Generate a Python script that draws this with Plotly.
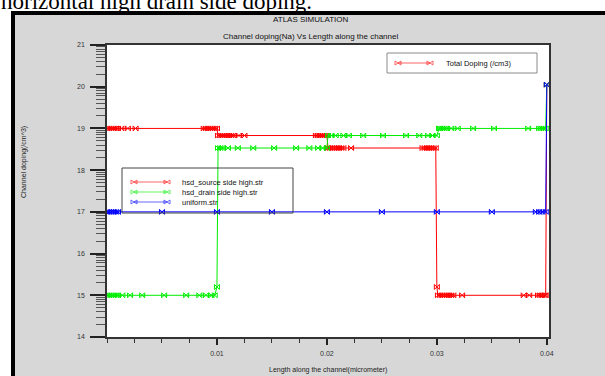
import plotly.graph_objects as go

# ---------------- data ----------------
red_name = "hsd_source side high.str"
green_name = "hsd_drain side high.str"
blue_name = "uniform.str"

red_x = [0.0000, 0.0002, 0.0004, 0.0006, 0.0008, 0.0010, 0.0013, 0.0019, 0.0026,
         0.0088, 0.0090, 0.0092, 0.0094, 0.0096, 0.0098, 0.0100,
         0.0101, 0.0103, 0.0105, 0.0107, 0.0109, 0.0111, 0.0113, 0.0115, 0.0120, 0.0125,
         0.0190, 0.0192, 0.0194, 0.0196, 0.0198, 0.0200,
         0.0201, 0.0203, 0.0205, 0.0207, 0.0209, 0.0211, 0.0213, 0.0215, 0.0222,
         0.0287, 0.0289, 0.0291, 0.0293, 0.0295, 0.0297, 0.0299,
         0.0300,
         0.0301, 0.0303, 0.0305, 0.0307, 0.0309, 0.0311, 0.0313, 0.0315, 0.0323,
         0.0379, 0.0384, 0.0392, 0.0394, 0.0396, 0.0398, 0.0399,
         0.0400]
red_y = [19.0, 19.0, 19.0, 19.0, 19.0, 19.0, 19.0, 19.0, 19.0,
         19.0, 19.0, 19.0, 19.0, 19.0, 19.0, 19.0,
         18.83, 18.83, 18.83, 18.83, 18.83, 18.83, 18.83, 18.83, 18.83, 18.83,
         18.83, 18.83, 18.83, 18.83, 18.83, 18.83,
         18.53, 18.53, 18.53, 18.53, 18.53, 18.53, 18.53, 18.53, 18.53,
         18.53, 18.53, 18.53, 18.53, 18.53, 18.53, 18.53,
         15.2,
         15.0, 15.0, 15.0, 15.0, 15.0, 15.0, 15.0, 15.0, 15.0,
         15.0, 15.0, 15.0, 15.0, 15.0, 15.0, 15.0,
         20.05]

green_x = [0.0000, 0.0002, 0.0004, 0.0006, 0.0008, 0.0010, 0.0014, 0.0021, 0.0032,
           0.0052, 0.0072, 0.0084, 0.0090, 0.0095, 0.0098,
           0.0100,
           0.0101, 0.0103, 0.0105, 0.0110, 0.0119, 0.0133, 0.0152, 0.0172, 0.0184,
           0.0192, 0.0196, 0.0200,
           0.0201, 0.0204, 0.0208, 0.0215, 0.0220, 0.0233, 0.0251, 0.0272, 0.0284,
           0.0292, 0.0296, 0.0300,
           0.0302, 0.0303, 0.0305, 0.0307, 0.0309, 0.0313, 0.0319, 0.0333, 0.0352,
           0.0383, 0.0393, 0.0395, 0.0397, 0.0399,
           0.0400]
green_y = [15.0, 15.0, 15.0, 15.0, 15.0, 15.0, 15.0, 15.0, 15.0,
           15.0, 15.0, 15.0, 15.0, 15.0, 15.0,
           15.2,
           18.53, 18.53, 18.53, 18.53, 18.53, 18.53, 18.53, 18.53, 18.53,
           18.53, 18.53, 18.53,
           18.83, 18.83, 18.83, 18.83, 18.83, 18.83, 18.83, 18.83, 18.83,
           18.83, 18.83, 18.83,
           19.0, 19.0, 19.0, 19.0, 19.0, 19.0, 19.0, 19.0, 19.0,
           19.0, 19.0, 19.0, 19.0, 19.0,
           20.05]

blue_x = [0.0000, 0.0002, 0.0004, 0.0006, 0.0008, 0.0010, 0.0050, 0.0100, 0.0150,
          0.0200, 0.0250, 0.0300, 0.0350, 0.0390, 0.0393, 0.0396, 0.0399, 0.0400]
blue_y = [17.0, 17.0, 17.0, 17.0, 17.0, 17.0, 17.0, 17.0, 17.0,
          17.0, 17.0, 17.0, 17.0, 17.0, 17.0, 17.0, 17.0, 20.05]

x_tick_vals = [0.01, 0.02, 0.03, 0.04]
x_tick_text = ["0.01", "0.02", "0.03", "0.04"]
y_tick_vals = [14, 15, 16, 17, 18, 19, 20, 21]
y_minor_vals = [14.301, 14.477, 14.602, 14.699, 14.778, 14.845, 14.903, 14.954,
                15.301, 15.477, 15.602, 15.699, 15.778, 15.845, 15.903, 15.954,
                16.301, 16.477, 16.602, 16.699, 16.778, 16.845, 16.903, 16.954,
                17.301, 17.477, 17.602, 17.699, 17.778, 17.845, 17.903, 17.954,
                18.301, 18.477, 18.602, 18.699, 18.778, 18.845, 18.903, 18.954,
                19.301, 19.477, 19.602, 19.699, 19.778, 19.845, 19.903, 19.954,
                20.301, 20.477, 20.602, 20.699, 20.778, 20.845, 20.903, 20.954]

title_main = "ATLAS SIMULATION"
title_sub = "Channel doping(Na) Vs Length along the channel"
x_title = "Length along the channel(micrometer)"
y_title = "Channel doping(/cm^3)"
total_label = "Total Doping (/cm3)"
caption = "horizontal high drain side doping."

# ---------------- layout geometry ----------------
W, H = 605, 376
L, R, T, B = 107, 56, 45, 39
PW, PH = W - L - R, H - T - B


def px(x):
    return (x - L) / PW


def py(y):
    return (H - B - y) / PH


FONT = "Liberation Sans, Arial, sans-serif"
RED, GREEN, BLUE = "#ff0000", "#00ee00", "#0000ff"

fig = go.Figure()
for xs, ys, col, nm in [(red_x, red_y, RED, red_name),
                        (green_x, green_y, GREEN, green_name),
                        (blue_x, blue_y, BLUE, blue_name)]:
    fig.add_trace(go.Scatter(
        x=xs, y=ys, name=nm, mode="lines+markers", showlegend=False,
        line=dict(color=col, width=1),
        marker=dict(symbol="bowtie-open", size=5, color=col, line=dict(width=1, color=col)),
    ))

shapes = []
# white outside area + black frame
shapes.append(dict(type="rect", xref="paper", yref="paper", x0=px(-10), x1=px(12), y0=py(400), y1=py(-10),
                   fillcolor="white", line=dict(width=0), layer="above"))
shapes.append(dict(type="rect", xref="paper", yref="paper", x0=px(-10), x1=px(620), y0=py(11), y1=py(-10),
                   fillcolor="white", line=dict(width=0), layer="above"))
shapes.append(dict(type="line", xref="paper", yref="paper", x0=px(13), x1=px(13), y0=py(11), y1=py(400),
                   line=dict(color="black", width=4), layer="above"))
shapes.append(dict(type="line", xref="paper", yref="paper", x0=px(11), x1=px(620), y0=py(13), y1=py(13),
                   line=dict(color="black", width=4), layer="above"))

# legend boxes
shapes.append(dict(type="rect", xref="paper", yref="paper", x0=px(387), x1=px(537), y0=py(73), y1=py(53),
                   fillcolor="white", line=dict(color="#8a8a8a", width=1), layer="above"))
shapes.append(dict(type="rect", xref="paper", yref="paper", x0=px(122), x1=px(293), y0=py(213), y1=py(168),
                   fillcolor="rgba(0,0,0,0)", line=dict(color="#444444", width=1), layer="above"))

annotations = []


def legend_entry(x0, x1, y, col, text, tx):
    shapes.append(dict(type="line", xref="paper", yref="paper", x0=px(x0), x1=px(x1), y0=py(y), y1=py(y),
                       line=dict(color=col, width=1), layer="above", opacity=0.6))
    for xm in (x0, x1):
        shapes.append(dict(type="path", xref="paper", yref="paper", xsizemode="pixel", ysizemode="pixel",
                           xanchor=px(xm), yanchor=py(y), path="M-3,-2L3,2L3,-2L-3,2Z",
                           line=dict(color=col, width=1), layer="above", opacity=0.6))
    annotations.append(dict(xref="paper", yref="paper", x=px(tx), y=py(y), xanchor="left", yanchor="middle",
                            text=text, showarrow=False, font=dict(family=FONT, size=7.5, color="#111")))


legend_entry(398, 430, 63, RED, total_label, 444)
legend_entry(134, 167, 182, RED, red_name, 180)
legend_entry(134, 167, 192, GREEN, green_name, 180)
legend_entry(134, 167, 202, BLUE, blue_name, 180)

annotations += [
    dict(xref="paper", yref="paper", x=px(310), y=py(20), text=title_main, showarrow=False,
         font=dict(family=FONT, size=8, color="#111"), xanchor="center", yanchor="middle"),
    dict(xref="paper", yref="paper", x=px(310), y=py(37), text=title_sub, showarrow=False,
         font=dict(family=FONT, size=8, color="#111"), xanchor="center", yanchor="middle"),
    dict(xref="paper", yref="paper", x=px(328), y=py(370), text=x_title, showarrow=False,
         font=dict(family=FONT, size=7, color="#222"), xanchor="center", yanchor="middle"),
    dict(xref="paper", yref="paper", x=px(24), y=py(162), text=y_title, showarrow=False, textangle=-90,
         font=dict(family=FONT, size=7, color="#222"), xanchor="center", yanchor="middle"),
    dict(xref="paper", yref="paper", x=px(-1), y=py(2), text=caption, showarrow=False,
         font=dict(family="Liberation Serif, Times New Roman, serif", size=23, color="black"),
         xanchor="left", yanchor="middle"),
]

fig.update_layout(
    width=W, height=H,
    margin=dict(l=L, r=R, t=T, b=B, pad=0),
    paper_bgcolor="#d7d7d7", plot_bgcolor="white",
    font=dict(family=FONT, size=7, color="#333"),
    showlegend=False,
    shapes=shapes, annotations=annotations,
    xaxis=dict(range=[0, 0.0402], tickmode="array", tickvals=x_tick_vals, ticktext=x_tick_text,
               ticks="outside", ticklen=6, tickwidth=2, tickcolor="#222",
               showline=True, linecolor="#333", linewidth=1.5, mirror=True,
               showgrid=False, zeroline=False, ticklabelstandoff=3,
               tickfont=dict(family=FONT, size=7, color="#333"),
               minor=dict(dtick=0.0025, tick0=0, ticks="outside", ticklen=4, tickwidth=1,
                          tickcolor="#333", showgrid=False)),
    yaxis=dict(range=[14, 21], tickmode="array", tickvals=y_tick_vals,
               ticks="outside", ticklen=15, tickwidth=2, tickcolor="#222",
               showline=True, linecolor="#333", linewidth=1.5, mirror=True,
               showgrid=False, zeroline=False, ticklabelstandoff=4,
               tickfont=dict(family=FONT, size=7, color="#333"),
               minor=dict(tickmode="array", tickvals=y_minor_vals, ticks="outside", ticklen=9,
                          tickwidth=1, tickcolor="#555", showgrid=False)),
)

fig.write_html("out.html", config={"displayModeBar": False},
               post_script="document.body.style.margin='0';document.body.style.overflow='hidden';")
